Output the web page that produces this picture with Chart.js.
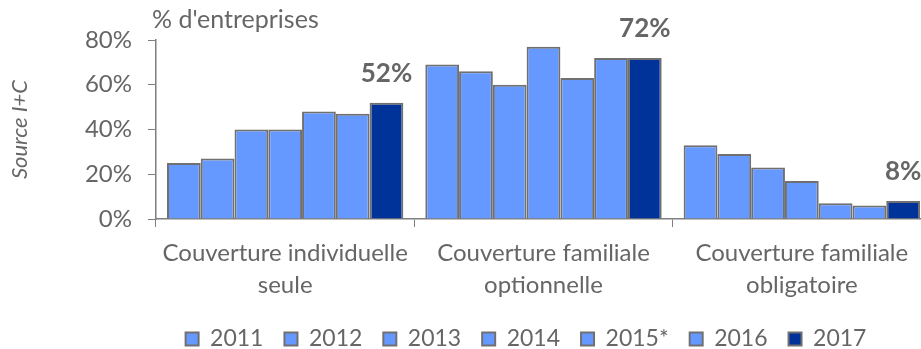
<!DOCTYPE html>
<html>
<head>
<meta charset="utf-8">
<script src="https://cdn.jsdelivr.net/npm/chart.js@4"></script>
<style>
  html, body { margin: 0; padding: 0; background: #fff; overflow: hidden; }
  #wrap { width: 935px; height: 349px; }
</style>
</head>
<body>
<div id="wrap"><canvas id="coverChart"></canvas></div>
<script>
const categories = [
  ["Couverture individuelle", "seule"],
  ["Couverture familiale", "optionnelle"],
  ["Couverture familiale", "obligatoire"],
];
const years = ["2011", "2012", "2013", "2014", "2015*", "2016", "2017"];
const v2011 = [25, 69, 33];
const v2012 = [27, 66, 29];
const v2013 = [40, 60, 23];
const v2014 = [40, 77, 17];
const v2015 = [48, 63, 7];
const v2016 = [47, 72, 6];
const v2017 = [52, 72, 8];
const yTicks = [0, 20, 40, 60, 80];

const series = [v2011, v2012, v2013, v2014, v2015, v2016, v2017];
const grey = "#666666";
const axisGrey = "#7f7f7f";
const font = "Lato, 'Open Sans', sans-serif";

// labels above the 2017 bars + unit note
const lastLabels = {
  id: "lastLabels",
  afterDatasetsDraw(chart) {
    const ctx = chart.ctx;
    const last = chart.data.datasets.length - 1;
    const meta = chart.getDatasetMeta(last);
    ctx.save();
    ctx.font = "bold 26px " + font;
    ctx.fillStyle = grey;
    ctx.textAlign = "center";
    ctx.textBaseline = "middle";
    meta.data.forEach((bar, i) => {
      ctx.fillText(chart.data.datasets[last].data[i] + "%", bar.x, bar.y - 29);
    });
    ctx.font = "25px " + font;
    ctx.textAlign = "left";
    ctx.fillText("% d'entreprises", chart.chartArea.left - 4, 20);
    ctx.restore();
  },
  afterLayout(chart) {
    // park the legend under the plot, near the bottom edge
    const lg = chart.legend;
    const pad = lg.options.labels.padding;
    const itemH = lg.options.labels.font.size;
    const dx = 526 - (lg.left + lg.right) / 2;
    const dy = 339 - (lg.top + pad + itemH / 2);
    lg.left += dx; lg.right += dx;
    lg.top += dy; lg.bottom += dy;
    // let the two-line category labels run past the axis box
    const x = chart.scales.x;
    x.bottom = chart.height;
    x.height = x.bottom - x.top;
  },
};

new Chart(document.getElementById("coverChart"), {
  type: "bar",
  data: {
    labels: categories,
    datasets: series.map((vals, i) => ({
      label: years[i],
      data: vals,
      backgroundColor: i === series.length - 1 ? "#003399" : "#6699ff",
      borderColor: "#707070",
      borderWidth: 2,
      categoryPercentage: 0.915,
      barPercentage: 1,
    })),
  },
  options: {
    responsive: true,
    maintainAspectRatio: false,
    animation: false,
    layout: { padding: { top: 40, right: 4, left: 0, bottom: 0 } },
    plugins: {
      legend: {
        position: "bottom",
        labels: {
          color: grey,
          font: { family: font, size: 23 },
          boxWidth: 13,
          boxHeight: 13,
          padding: 21,
        },
      },
      tooltip: { enabled: false },
    },
    scales: {
      x: {
        grid: {
          drawOnChartArea: false,
          drawTicks: true,
          tickLength: 8,
          color: axisGrey,
          offset: true,
        },
        border: { color: axisGrey, width: 1.5 },
        ticks: {
          color: grey,
          font: { family: font, size: 24, lineHeight: 1.333 },
          maxRotation: 0,
          padding: 10,
        },
        afterFit(scale) {
          const lg = scale.chart.legend;
          scale.height = 349 - 219 - (lg && lg.height ? lg.height : 55);
        },
      },
      y: {
        min: 0,
        max: 80,
        afterBuildTicks(scale) { scale.ticks = yTicks.map((v) => ({ value: v })); },
        grid: {
          drawOnChartArea: false,
          drawTicks: true,
          tickLength: 8,
          color: axisGrey,
        },
        border: { color: axisGrey, width: 1.5 },
        ticks: {
          color: grey,
          font: { family: font, size: 24 },
          padding: 16,
          callback: (v) => v + "%",
        },
        title: {
          display: true,
          text: "Source I+C",
          color: grey,
          font: { family: font, size: 22, style: "italic" },
          padding: { top: 7, bottom: 0 },
        },
        afterFit(scale) { scale.width = 156; },
      },
    },
  },
  plugins: [lastLabels],
});
</script>
</body>
</html>
